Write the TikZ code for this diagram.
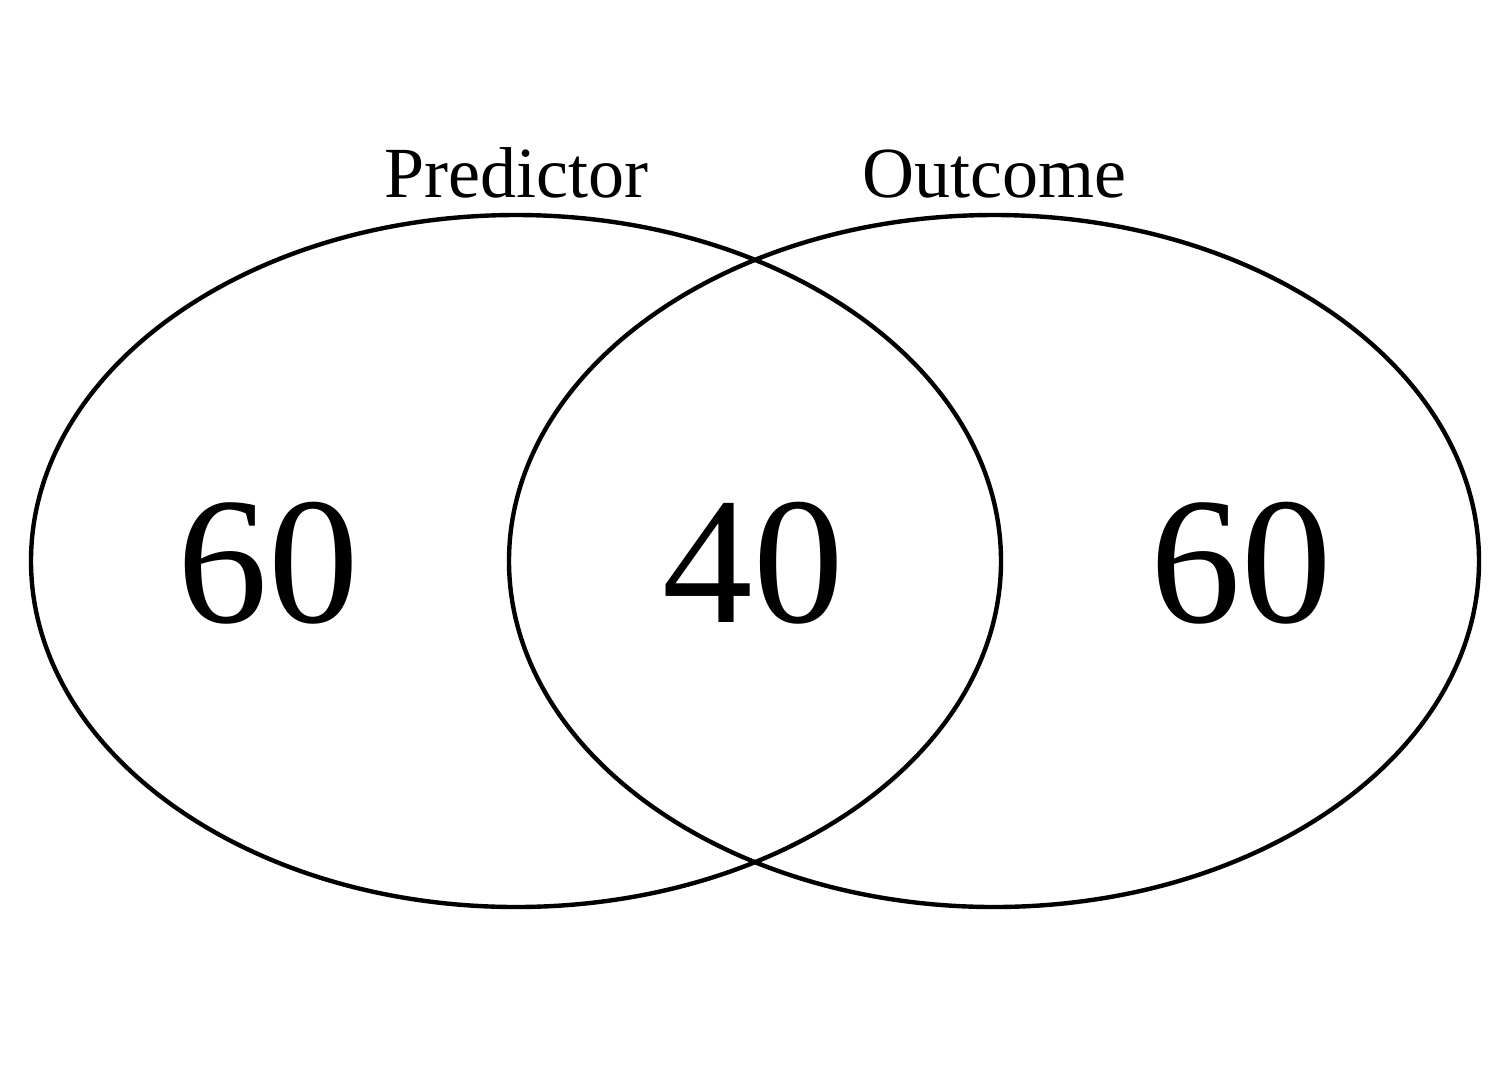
\documentclass[tikz,border=0pt]{standalone}
\usepackage{fontspec}
\setmainfont{Liberation Serif}
\begin{document}
\begin{tikzpicture}[x=1pt,y=-1pt,
  setline/.style={line width=4.4pt,black},
  settitle/.style={anchor=base,inner sep=0pt,font=\fontsize{72}{78}\selectfont},
  setnum/.style={anchor=base,inner sep=0pt,font=\fontsize{181}{186}\selectfont}]
\useasboundingbox[fill=white] (0,0) rectangle (1512,1080);
\coordinate (cl) at (516,561);
\coordinate (cr) at (994,561);
\draw[setline] (cl) ellipse [x radius=485pt, y radius=346pt];
\draw[setline] (cr) ellipse [x radius=485pt, y radius=346pt];
\node[settitle] (pred) at (516,197) {Predictor};
\node[settitle] (outc) at (994,197) {Outcome};
\node[setnum] (nl) at (268,622) {60};
\node[setnum] (nm) at (753,622) {40};
\node[setnum] (nr) at (1241,622) {60};
\end{tikzpicture}
\end{document}
